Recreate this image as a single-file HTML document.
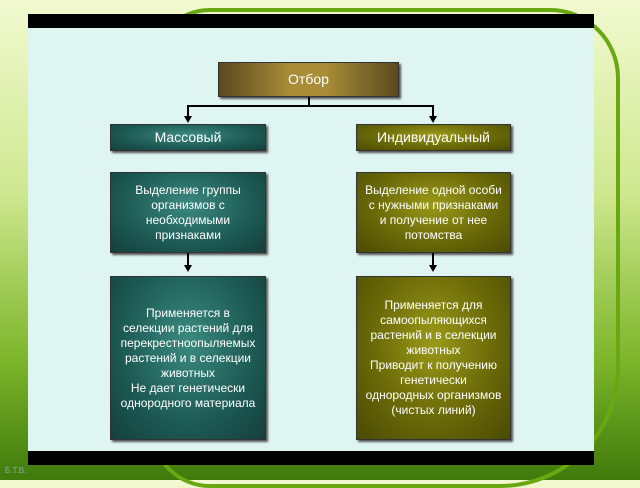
<!DOCTYPE html>
<html><head><meta charset="utf-8"><style>
*{box-sizing:border-box}
body{margin:0;width:640px;height:480px;overflow:hidden;font-family:"Liberation Sans",sans-serif;
background:linear-gradient(180deg,#f2f9d0 0%,#cfe890 40%,#7db52a 75%,#3f7a0c 100%);position:relative}
.ring{position:absolute;left:150px;top:8px;width:470px;height:480px;border:4px solid #6aa812;border-radius:60px 70px 120px 60px}
.bar{position:absolute;left:28px;width:566px;height:14px;background:#000}
.panel{position:absolute;left:28px;top:28px;width:566px;height:423px;background:#def5f2}
.b{position:absolute;color:#fff;display:flex;align-items:center;justify-content:center;text-align:center;box-shadow:2px 2px 2px #555;font-size:12px;line-height:15px;border:1px solid #333}
.t{background:radial-gradient(ellipse at 50% 40%,#3a8a80 0%,#1d5a54 60%,#143f3b 100%)}
.o{background:radial-gradient(ellipse at 50% 40%,#9a9a18 0%,#6b6a08 55%,#4a4a04 100%)}
.g{background:linear-gradient(90deg,#5a4a1e,#a88c38 40%,#a88c38 60%,#5a4a1e)}
.h{font-size:14px}
.l{position:absolute;background:#000}
.a{position:absolute;width:0;height:0;border-left:4px solid transparent;border-right:4px solid transparent;border-top:7px solid #000}
</style></head><body>
<div class="ring"></div>
<div class="bar" style="top:14px"></div>
<div class="panel"></div>
<div class="bar" style="top:451px"></div>
<div style="position:absolute;left:5px;top:466px;font-size:8px;color:#8aa">Б.Т.В.</div>
<div class="b g h" style="left:218px;top:62px;width:181px;height:35px">Отбор</div>
<div class="l" style="left:308px;top:97px;width:2px;height:9px"></div>
<div class="l" style="left:187px;top:105px;width:247px;height:2px"></div>
<div class="l" style="left:187px;top:105px;width:2px;height:11px"></div>
<div class="l" style="left:432px;top:105px;width:2px;height:11px"></div>
<div class="a" style="left:184px;top:116px"></div>
<div class="a" style="left:429px;top:116px"></div>
<div class="b t h" style="left:110px;top:124px;width:156px;height:27px">Массовый</div>
<div class="b o h" style="left:356px;top:124px;width:155px;height:27px">Индивидуальный</div>
<div class="b t" style="left:110px;top:172px;width:156px;height:81px">Выделение группы<br>организмов с<br>необходимыми<br>признаками</div>
<div class="b o" style="left:356px;top:172px;width:155px;height:81px">Выделение одной особи<br>с нужными признаками<br>и получение от нее<br>потомства</div>
<div class="l" style="left:187px;top:253px;width:2px;height:13px"></div>
<div class="l" style="left:432px;top:253px;width:2px;height:13px"></div>
<div class="a" style="left:184px;top:265px"></div>
<div class="a" style="left:429px;top:265px"></div>
<div class="b t" style="left:110px;top:276px;width:156px;height:164px">Применяется в<br>селекции растений для<br>перекрестноопыляемых<br>растений и в селекции<br>животных<br>Не дает генетически<br>однородного материала</div>
<div class="b o" style="left:356px;top:276px;width:155px;height:164px">Применяется для<br>самоопыляющихся<br>растений и в селекции<br>животных<br>Приводит к получению<br>генетически<br>однородных организмов<br>(чистых линий)</div>
</body></html>
